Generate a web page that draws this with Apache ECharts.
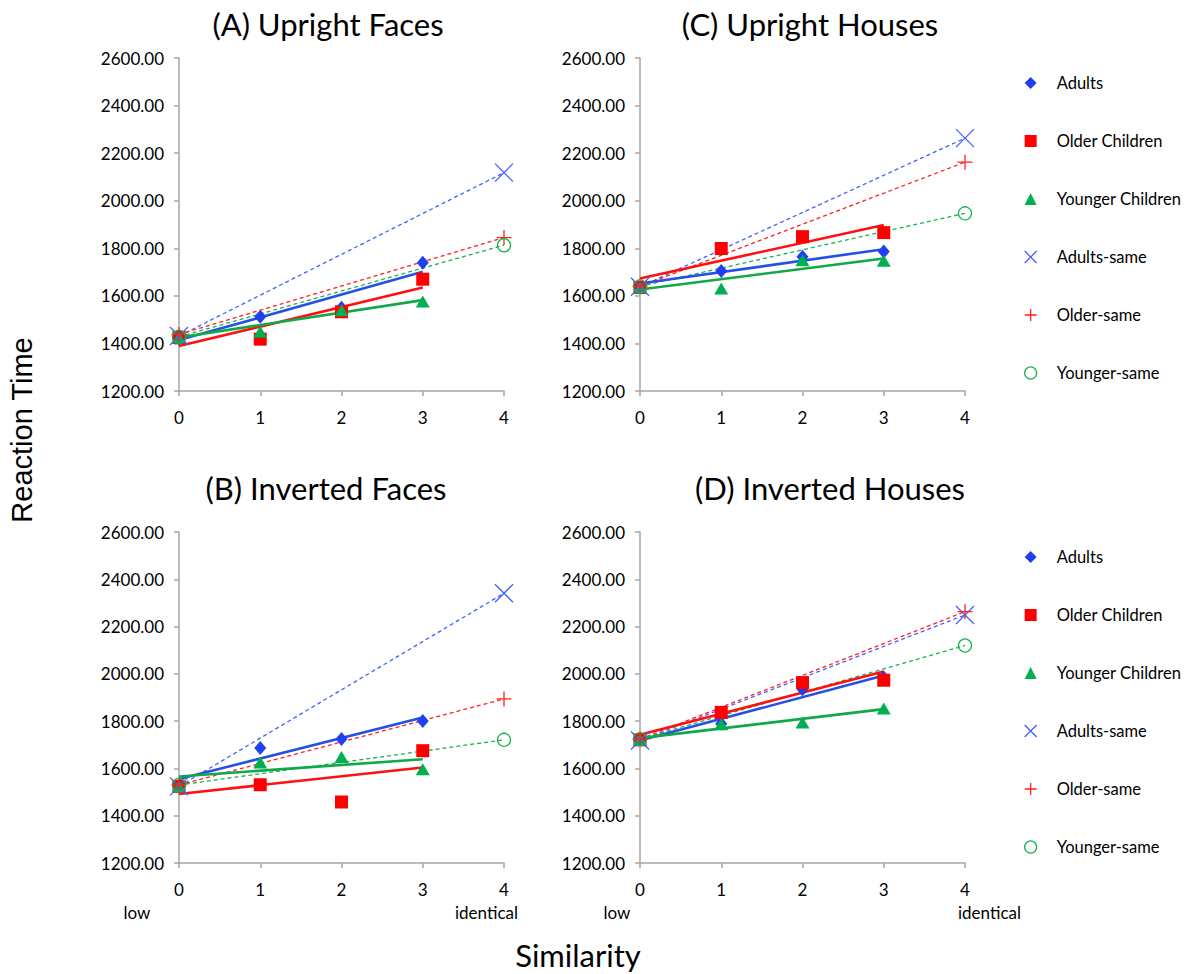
<!DOCTYPE html>
<html>
<head>
<meta charset="utf-8">
<script src="https://cdn.jsdelivr.net/npm/echarts@6/dist/echarts.min.js"></script>
<style>
html,body{margin:0;padding:0;background:#fff;}
#chart{width:1198px;height:974px;}
</style>
</head>
<body>
<div id="chart"></div>
<script>
// ---- data ----
const xGroups = [0, 1, 2, 3];
const xSameEnds = [0, 4];
const xFitEnds = [0, 3];
const seriesNames = ['Adults', 'Older Children', 'Younger Children', 'Adults-same', 'Older-same', 'Younger-same'];
const panelTitles = ['(A) Upright Faces', '(C) Upright Houses', '(B) Inverted Faces', '(D) Inverted Houses'];

// (A) Upright Faces
const adultsA = [1421, 1512, 1550, 1739];
const olderA = [1425, 1418, 1533, 1670];
const youngerA = [1425, 1449, 1540, 1576];
const adultsFitA = [1414, 1701];
const olderFitA = [1389, 1635];
const youngerFitA = [1425, 1582];
const adultsSameA = [1431, 2118];
const olderSameA = [1438, 1845];
const youngerSameA = [1428, 1813];

// (C) Upright Houses
const adultsC = [1635, 1704, 1764, 1786];
const olderC = [1635, 1799, 1849, 1866];
const youngerC = [1635, 1631, 1750, 1748];
const adultsFitC = [1652, 1796];
const olderFitC = [1673, 1898];
const youngerFitC = [1627, 1757];
const adultsSameC = [1638, 2263];
const olderSameC = [1640, 2162];
const youngerSameC = [1640, 1947];

// (B) Inverted Faces
const adultsB = [1524, 1686, 1725, 1801];
const olderB = [1524, 1531, 1458, 1675];
const youngerB = [1524, 1625, 1648, 1596];
const adultsFitB = [1555, 1815];
const olderFitB = [1492, 1604];
const youngerFitB = [1566, 1639];
const adultsSameB = [1524, 2341];
const olderSameB = [1530, 1894];
const youngerSameB = [1530, 1721];

// (D) Inverted Houses
const adultsD = [1721, 1789, 1935, 1985];
const olderD = [1721, 1837, 1963, 1973];
const youngerD = [1721, 1787, 1794, 1853];
const adultsFitD = [1718, 1993];
const olderFitD = [1742, 2010];
const youngerFitD = [1728, 1851];
const adultsSameD = [1718, 2249];
const olderSameD = [1724, 2263];
const youngerSameD = [1724, 2120];

// ---- table built from the arrays ----
const panels = [
  {pts: [adultsA, olderA, youngerA], fit: [adultsFitA, olderFitA, youngerFitA], same: [adultsSameA, olderSameA, youngerSameA]},
  {pts: [adultsC, olderC, youngerC], fit: [adultsFitC, olderFitC, youngerFitC], same: [adultsSameC, olderSameC, youngerSameC]},
  {pts: [adultsB, olderB, youngerB], fit: [adultsFitB, olderFitB, youngerFitB], same: [adultsSameB, olderSameB, youngerSameB]},
  {pts: [adultsD, olderD, youngerD], fit: [adultsFitD, olderFitD, youngerFitD], same: [adultsSameD, olderSameD, youngerSameD]}
];

const FONT = 'Lato, "Open Sans", sans-serif';
const groupColors = ['#1f3ff0', '#ff0000', '#00b050'];
const lineColors = ['#2450e6', '#ff1010', '#10a848'];
const sameColors = ['#4062ff', '#ff2020', '#1cb050'];
const PATH_X = 'path://M0,0L10,10M10,0L0,10';
const PATH_PLUS = 'path://M5,0L5,10M0,5L10,5';

const markerDefs = [
  {symbol: 'diamond', size: [12, 14], style: {color: groupColors[0], opacity: 1}},
  {symbol: 'rect', size: 13, style: {color: groupColors[1], opacity: 1}},
  {symbol: 'triangle', size: [14, 12], style: {color: groupColors[2], opacity: 1}},
  {symbol: PATH_X, size: 18, style: {color: 'transparent', borderColor: sameColors[0], borderWidth: 1.3, opacity: 1}},
  {symbol: PATH_PLUS, size: 15, style: {color: 'transparent', borderColor: sameColors[1], borderWidth: 1.3, opacity: 1}},
  {symbol: 'circle', size: 13, style: {color: 'transparent', borderColor: sameColors[2], borderWidth: 1.3, opacity: 1}}
];

const grids = [
  {left: 179, top: 58, width: 325, height: 333},
  {left: 640, top: 58, width: 325, height: 333},
  {left: 179, top: 532, width: 325, height: 331},
  {left: 640, top: 532, width: 325, height: 331}
];

const axisColor = '#a6a6a6';
const xAxes = grids.map((g, i) => ({
  type: 'value', gridIndex: i, min: 0, max: 4, interval: 1,
  splitLine: {show: false},
  axisLine: {show: true, lineStyle: {color: axisColor, width: 1.5}},
  axisTick: {show: true, length: 5, lineStyle: {color: axisColor, width: 1.5}},
  axisLabel: {color: '#000', fontFamily: FONT, fontSize: 17, margin: 18, lineHeight: 17}
}));
const yAxes = grids.map((g, i) => ({
  type: 'value', gridIndex: i, min: 1200, max: 2600, interval: 200,
  splitLine: {show: false},
  axisLine: {show: true, lineStyle: {color: axisColor, width: 1.5}},
  axisTick: {show: true, length: 5, lineStyle: {color: axisColor, width: 1.5}},
  axisLabel: {color: '#000', fontFamily: FONT, fontSize: 17, margin: 15, formatter: v => v.toFixed(2)}
}));

const series = [];
panels.forEach((p, gi) => {
  p.same.forEach((s, k) => {
    series.push({
      name: '_same' + k, type: 'line', xAxisIndex: gi, yAxisIndex: gi, z: 2,
      data: xSameEnds.map((x, j) => [x, s[j]]), symbol: 'none', silent: true,
      lineStyle: {color: sameColors[k], width: 1.3, type: [4, 3]}
    });
  });
  p.fit.forEach((f, k) => {
    series.push({
      name: '_fit' + k, type: 'line', xAxisIndex: gi, yAxisIndex: gi, z: 3,
      data: xFitEnds.map((x, j) => [x, f[j]]), symbol: 'none', silent: true,
      lineStyle: {color: lineColors[k], width: 2.6}
    });
  });
  p.pts.forEach((v, k) => {
    const m = markerDefs[k];
    series.push({
      name: seriesNames[k], type: 'scatter', xAxisIndex: gi, yAxisIndex: gi, z: 4, clip: false,
      symbol: m.symbol, symbolSize: m.size, itemStyle: m.style,
      data: xGroups.map((x, j) => [x, v[j]])
    });
  });
  p.same.forEach((s, k) => {
    const m = markerDefs[k + 3];
    series.push({
      name: seriesNames[k + 3], type: 'scatter', xAxisIndex: gi, yAxisIndex: gi, z: 5, clip: false,
      symbol: m.symbol, symbolSize: m.size, itemStyle: m.style,
      data: xSameEnds.map((x, j) => [x, s[j]])
    });
  });
});

function legendAt(top) {
  return {
    orient: 'vertical', left: 1019, top: top, itemWidth: 12, itemHeight: 12, itemGap: 40,
    selectedMode: false,
    textStyle: {color: '#000', fontFamily: FONT, fontSize: 16.5, lineHeight: 18, padding: [0, 0, 0, 15]},
    data: seriesNames.map((n, k) => ({
      name: n, icon: markerDefs[k].symbol,
      itemStyle: Object.assign({borderWidth: 0}, markerDefs[k].style)
    }))
  };
}

const titleCenters = [[328, 24], [810, 24], [326, 488], [830, 488]];
const graphics = panelTitles.map((t, i) => ({
  type: 'text', x: titleCenters[i][0], y: titleCenters[i][1],
  style: {text: t, font: '31px ' + FONT, fill: '#000', textAlign: 'center', textVerticalAlign: 'middle'}
}));
const smallText = (t, x, align) => ({type: 'text', x: x, y: 912,
  style: {text: t, font: '17px ' + FONT, fill: '#000', textAlign: align, textVerticalAlign: 'middle', lineHeight: 17}});
graphics.push(
  smallText('low', 137, 'center'),
  smallText('identical', 455, 'left'),
  smallText('low', 617, 'center'),
  smallText('identical', 958, 'left'),
  {type: 'text', x: 578, y: 955, style: {text: 'Similarity', font: '31px ' + FONT, fill: '#000', textAlign: 'center', textVerticalAlign: 'middle'}},
  {type: 'text', x: 22, y: 430, rotation: Math.PI / 2,
   style: {text: 'Reaction Time', font: '29px "Liberation Sans", Arial, sans-serif', fill: '#000', textAlign: 'center', textVerticalAlign: 'middle'}}
);

const chart = echarts.init(document.getElementById('chart'), null, {renderer: 'svg'});
chart.setOption({
  backgroundColor: '#fff',
  animation: false,
  grid: grids,
  xAxis: xAxes,
  yAxis: yAxes,
  legend: [legendAt(69), legendAt(543)],
  series: series,
  graphic: graphics
});
</script>
</body>
</html>
